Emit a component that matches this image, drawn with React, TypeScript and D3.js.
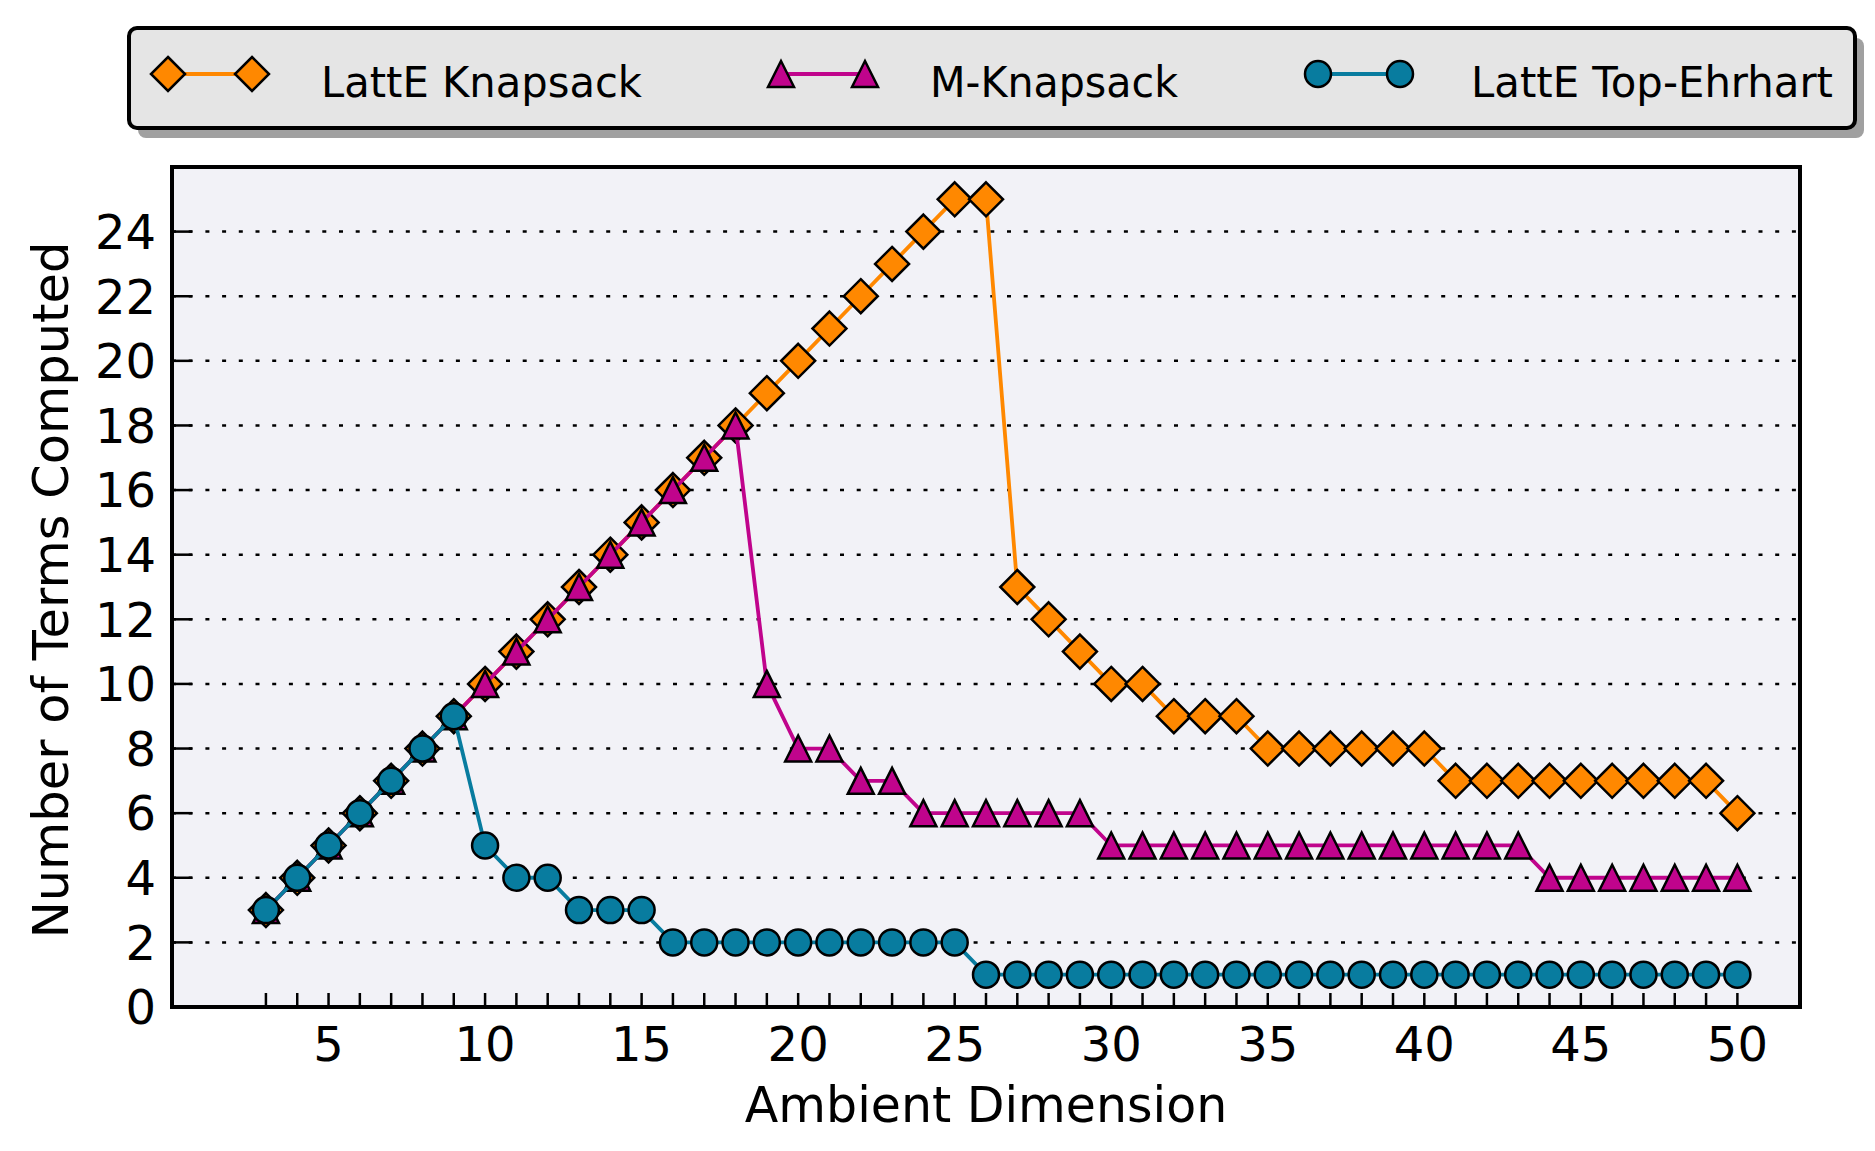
import React from "react";
import * as d3 from "d3";

const dims = [3,4,5,6,7,8,9,10,11,12,13,14,15,16,17,18,19,20,21,22,23,24,25,26,27,28,29,30,31,32,33,34,35,36,37,38,39,40,41,42,43,44,45,46,47,48,49,50];
const latteKnapsack = [3,4,5,6,7,8,9,10,11,12,13,14,15,16,17,18,19,20,21,22,23,24,25,25,13,12,11,10,10,9,9,9,8,8,8,8,8,8,7,7,7,7,7,7,7,7,7,6];
const mKnapsack = [3,4,5,6,7,8,9,10,11,12,13,14,15,16,17,18,10,8,8,7,7,6,6,6,6,6,6,5,5,5,5,5,5,5,5,5,5,5,5,5,5,4,4,4,4,4,4,4];
const topEhrhart = [3,4,5,6,7,8,9,5,4,4,3,3,3,2,2,2,2,2,2,2,2,2,2,1,1,1,1,1,1,1,1,1,1,1,1,1,1,1,1,1,1,1,1,1,1,1,1,1];
const xTickLabels = [5,10,15,20,25,30,35,40,45,50];
const yTickLabels = [0,2,4,6,8,10,12,14,16,18,20,22,24];
const seriesNames = ["LattE Knapsack", "M-Knapsack", "LattE Top-Ehrhart"];

const W = 1875, H = 1151;
const FONT = "DejaVu Sans, sans-serif";
const COLORS = ["#ff8800", "#c0048c", "#087c9f"];

const diamond = "M0,-17L17,0L0,17L-17,0Z";
const triangle = "M0,-13L13,13L-13,13Z";

function Marker({ kind, x, y, color }: { kind: number; x: number; y: number; color: string }) {
  if (kind === 2) return <circle cx={x} cy={y} r={13} fill={color} stroke="#000" strokeWidth={2.5} />;
  return <path d={kind === 0 ? diamond : triangle} transform={`translate(${x},${y})`} fill={color} stroke="#000" strokeWidth={2.5} strokeLinejoin="miter" />;
}

export default function App() {
  const x = d3.scaleLinear().domain([0, 52]).range([172, 1800]);
  const y = d3.scaleLinear().domain([0, 26]).range([1007, 167]);
  const series = [latteKnapsack, mKnapsack, topEhrhart];
  const line = d3.line<number>().x((_, i) => x(dims[i])).y((v) => y(v));

  const legendItems = [
    { m1: 168, m2: 252, tx: 321, len: 321 },
    { m1: 781, m2: 865, tx: 930, len: 248 },
    { m1: 1318, m2: 1400, tx: 1471, len: 362 },
  ];

  return (
    <div style={{ position: "absolute", left: 0, top: 0 }}>
      <svg width={W} height={H} style={{ display: "block", fontFamily: FONT }}>
        <rect x={0} y={0} width={W} height={H} fill="#fff" />
        <rect x={x(0)} y={y(26)} width={x(52) - x(0)} height={y(0) - y(26)} fill="#f2f2f7" />
        {yTickLabels.filter((v) => v > 0).map((v) => (
          <line key={"g" + v} x1={x(0)} x2={x(52)} y1={y(v)} y2={y(v)} stroke="#000" strokeWidth={2.5} strokeDasharray="4,12.7" />
        ))}
        {yTickLabels.map((v) => (
          <g key={"yt" + v}>
            <line x1={x(0)} x2={x(0) + 20} y1={y(v)} y2={y(v)} stroke="#000" strokeWidth={2.5} />
            <text x={156} y={y(v)} dy="0.36em" textAnchor="end" fontSize={48} fill="#000">{v}</text>
          </g>
        ))}
        {dims.map((d) => (
          <line key={"xt" + d} x1={x(d)} x2={x(d)} y1={y(0)} y2={y(0) - 14} stroke="#000" strokeWidth={2.5} />
        ))}
        {xTickLabels.map((d) => (
          <text key={"xl" + d} x={x(d)} y={1061} textAnchor="middle" fontSize={48} fill="#000">{d}</text>
        ))}
        {series.map((vals, si) => (
          <g key={"s" + si}>
            <path d={line(vals) || ""} fill="none" stroke={COLORS[si]} strokeWidth={3.8} />
            {vals.map((v, i) => (
              <Marker key={i} kind={si} x={x(dims[i])} y={y(v)} color={COLORS[si]} />
            ))}
          </g>
        ))}
        <rect x={x(0)} y={y(26)} width={x(52) - x(0)} height={y(0) - y(26)} fill="none" stroke="#000" strokeWidth={4} />
        <text x={986} y={1122} textAnchor="middle" fontSize={49} fill="#000">Ambient Dimension</text>
        <text transform={`translate(68,590) rotate(-90)`} textAnchor="middle" fontSize={49.5} fill="#000">Number of Terms Computed</text>
        <rect x={138} y={38} width={1726} height={100} rx={8} fill="#a0a0a0" />
        <rect x={129} y={28} width={1726} height={100} rx={8} fill="#e5e5e5" stroke="#000" strokeWidth={4} />
        {legendItems.map((it, si) => (
          <g key={"l" + si}>
            <line x1={it.m1} x2={it.m2} y1={74} y2={74} stroke={COLORS[si]} strokeWidth={3.8} />
            <Marker kind={si} x={it.m1} y={74} color={COLORS[si]} />
            <Marker kind={si} x={it.m2} y={74} color={COLORS[si]} />
            <text x={it.tx} y={97} fontSize={42} fill="#000" textLength={it.len} lengthAdjust="spacingAndGlyphs">{seriesNames[si]}</text>
          </g>
        ))}
      </svg>
    </div>
  );
}
